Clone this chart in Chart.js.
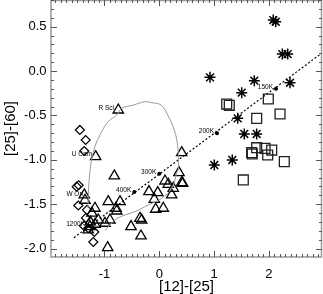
<!DOCTYPE html>
<html><head><meta charset="utf-8">
<script src="https://cdn.jsdelivr.net/npm/chart.js@4.4.0/dist/chart.umd.min.js"></script>
<style>html,body{margin:0;padding:0;background:#fff}canvas{display:block}</style>
</head><body>
<canvas id="c" width="323" height="294"></canvas>
<script>
// axis ranges and tick labels
const xMin = -1.976, xMax = 2.969;
const yMin = -2.095, yMax = 0.80;
const xTicks = [-1, 0, 1, 2];
const yTicks = [-2.0, -1.5, -1.0, -0.5, 0.0, 0.5];

// diamonds
const diamondX = [-1.449,-1.343,-1.369,-1.507,-1.471,-1.478,-1.319,-1.338,-1.374,-1.296,-1.186,-1.204];
const diamondY = [-0.664,-0.777,-0.901,-1.303,-1.287,-1.515,-1.565,-1.655,-1.745,-1.771,-1.813,-1.926];

// triangles
const triX = [-0.748,-1.161,-0.821,-1.369,-1.356,-0.931,-0.717,-0.790,-0.777,-1.173,-1.113,-1.173,-0.991,-0.900,-1.265,-1.296,-0.516,-0.942,-0.352,-0.321,-0.334,0.409,0.359,0.409,0.427,0.104,0.164,0.255,0.226,-0.188,-0.029,-0.091,-0.066,0.073,-1.23,-1.26];
const triY = [-0.439,-0.965,-1.182,-1.396,-1.456,-1.472,-1.472,-1.546,-1.577,-1.546,-1.678,-1.726,-1.715,-1.678,-1.753,-1.790,-1.753,-1.990,-1.659,-1.678,-1.858,-0.920,-1.145,-1.258,-1.265,-1.239,-1.276,-1.321,-1.396,-1.359,-1.370,-1.445,-1.557,-1.546,-1.600,-1.700];

// squares
const sqX = [1.230,1.277,1.989,1.777,2.203,1.777,1.686,1.697,1.929,2.051,1.978,2.281,1.533];
const sqY = [-0.372,-0.386,-0.315,-0.533,-0.484,-0.864,-0.920,-0.935,-0.871,-0.890,-0.946,-1.021,-1.227];

// asterisks
const starX = [2.080,2.124,2.245,2.343,0.925,1.734,2.385,1.504,1.431,1.551,1.777,1.004,1.332];
const starY = [0.574,0.555,0.191,0.191,-0.071,-0.109,-0.132,-0.244,-0.533,-0.709,-0.709,-1.059,-1.002];

// dotted relation line (end points)
const lineX = [-1.557, 2.969];
const lineY = [-1.877, 0.203];

// temperature marks on the line
const tempLabels = ['150K','200K','300K','400K','1200K'];
const tempX = [2.130, 1.053, 0.000, -0.456, -1.300];
const tempY = [-0.199, -0.700, -1.157, -1.363, -1.745];

// grey model track
const curveX = [-1.301,-1.296,-1.265,-1.204,-1.082,-0.931,-0.777,-0.686,-0.474,-0.261,-0.139,0.031,0.153,0.274,0.336,0.350,0.318,0.226,0.044,-0.201,-0.443,-0.777,-0.991];
const curveY = [-1.543,-1.396,-1.134,-0.909,-0.720,-0.571,-0.495,-0.420,-0.383,-0.346,-0.357,-0.383,-0.495,-0.664,-0.852,-1.090,-1.150,-1.321,-1.434,-1.509,-1.584,-1.663,-1.794];

// named stars
const starNames = ['R Scl','U Cam','W Ori'];
const starNameX = [-0.827,-1.228,-1.392];
const starNameY = [-0.420,-0.938,-1.382];

const pts = (xs, ys) => xs.map((x, i) => ({x, y: ys[i]}));
const FONT = "'Liberation Sans', Arial, Helvetica, sans-serif";

// pin the plot area to the reference frame
const AREA = {left: 51, right: 322, top: 0, bottom: 257};
const fixLayout = {
  id: 'fixLayout',
  afterLayout(chart) {
    const {x, y} = chart.scales;
    const H = chart.height;
    Object.assign(x, {left: AREA.left, right: AREA.right, top: AREA.bottom, bottom: H,
                      width: AREA.right - AREA.left, height: H - AREA.bottom});
    Object.assign(y, {left: 0, right: AREA.left, top: AREA.top, bottom: AREA.bottom,
                      width: AREA.left, height: AREA.bottom - AREA.top});
    x.configure(); y.configure();
    Object.assign(chart.chartArea, {left: AREA.left, right: AREA.right, top: AREA.top, bottom: AREA.bottom,
                                    width: AREA.right - AREA.left, height: AREA.bottom - AREA.top});
  }
};

const annot = {
  id: 'annot',
  afterDatasetsDraw(chart) {
    const {ctx, chartArea: a, scales: {x, y}} = chart;
    ctx.save();
    // frame
    ctx.strokeStyle = '#999';
    ctx.lineWidth = 1.5;
    ctx.strokeRect(a.left, a.top + 0.5, a.right - a.left - 0.5, a.bottom - a.top - 0.5);
    // ticks (inward, all sides)
    ctx.strokeStyle = '#555';
    ctx.lineWidth = 1;
    ctx.beginPath();
    for (let k = Math.ceil(xMin * 10); k <= Math.floor(xMax * 10); k++) {
      const px = Math.round(x.getPixelForValue(k / 10)) + 0.5;
      const len = (k % 10 === 0) ? 6 : 3;
      ctx.moveTo(px, a.bottom); ctx.lineTo(px, a.bottom - len);
      ctx.moveTo(px, a.top); ctx.lineTo(px, a.top + len);
    }
    for (let k = Math.ceil(yMin * 10); k <= Math.floor(yMax * 10); k++) {
      const py = Math.round(y.getPixelForValue(k / 10)) + 0.5;
      const len = (k % 5 === 0) ? 6 : 3;
      ctx.moveTo(a.left, py); ctx.lineTo(a.left + len, py);
      ctx.moveTo(a.right, py); ctx.lineTo(a.right - len, py);
    }
    ctx.stroke();
    // labels
    ctx.fillStyle = '#000';
    ctx.font = '6.5px ' + FONT;
    ctx.textAlign = 'right';
    ctx.textBaseline = 'middle';
    tempLabels.forEach((t, i) => {
      ctx.fillText(t, x.getPixelForValue(tempX[i]) - 3, y.getPixelForValue(tempY[i]) - 1.5);
    });
    starNames.forEach((t, i) => {
      ctx.fillText(t, x.getPixelForValue(starNameX[i]), y.getPixelForValue(starNameY[i]));
    });
    ctx.restore();
  }
};

new Chart(document.getElementById('c'), {
  type: 'scatter',
  data: {
    datasets: [
      { data: pts(curveX, curveY), showLine: true, borderColor: '#999', borderWidth: 1, pointRadius: 0, tension: 0.4, fill: false },
      { data: pts(lineX, lineY), showLine: true, borderColor: '#000', borderWidth: 1.2, borderDash: [2, 2], pointRadius: 0, fill: false },
      { data: pts(tempX, tempY), pointStyle: 'circle', pointRadius: 2, backgroundColor: '#000', borderColor: '#000', borderWidth: 0 },
      { data: pts(diamondX, diamondY), pointStyle: 'rectRot', pointRadius: 4.5, backgroundColor: 'rgba(0,0,0,0)', borderColor: '#000', borderWidth: 1.2 },
      { data: pts(triX, triY), pointStyle: 'triangle', pointRadius: 6, backgroundColor: 'rgba(0,0,0,0)', borderColor: '#000', borderWidth: 1.3 },
      { data: pts(sqX, sqY), pointStyle: 'rect', pointRadius: 7, backgroundColor: 'rgba(0,0,0,0)', borderColor: '#222', borderWidth: 1.3 },
      { data: pts(starX, starY), pointStyle: 'star', pointRadius: 5.5, backgroundColor: 'rgba(0,0,0,0)', borderColor: '#000', borderWidth: 1.5 }
    ]
  },
  options: {
    responsive: false,
    animation: false,
    devicePixelRatio: 1,
    layout: { padding: { left: 0, right: 1, top: 0, bottom: 0 } },
    plugins: { legend: { display: false }, tooltip: { enabled: false } },
    scales: {
      x: {
        type: 'linear', position: 'bottom', min: xMin, max: xMax,
        afterBuildTicks: s => { s.ticks = xTicks.map(v => ({value: v})); },
        grid: { display: false, drawTicks: false }, border: { display: false },
        ticks: { padding: 10, color: '#000', autoSkip: false, maxRotation: 0, font: { family: FONT, size: 13 }, callback: v => String(v) },
        title: { display: true, text: '[12]-[25]', color: '#000', font: { family: FONT, size: 15, lineHeight: 1 }, padding: { top: 0, bottom: 0 } }
      },
      y: {
        type: 'linear', position: 'left', min: yMin, max: yMax,
        afterBuildTicks: s => { s.ticks = yTicks.map(v => ({value: v})); },
        grid: { display: false, drawTicks: false }, border: { display: false },
        ticks: { padding: 4.5, color: '#000', autoSkip: false, font: { family: FONT, size: 13 }, callback: v => Number(v).toFixed(1) },
        title: { display: true, text: '[25]-[60]', color: '#000', font: { family: FONT, size: 15, lineHeight: 1 }, padding: { top: 3.5, bottom: 0 } }
      }
    }
  },
  plugins: [fixLayout, annot]
});
</script>
</body></html>
